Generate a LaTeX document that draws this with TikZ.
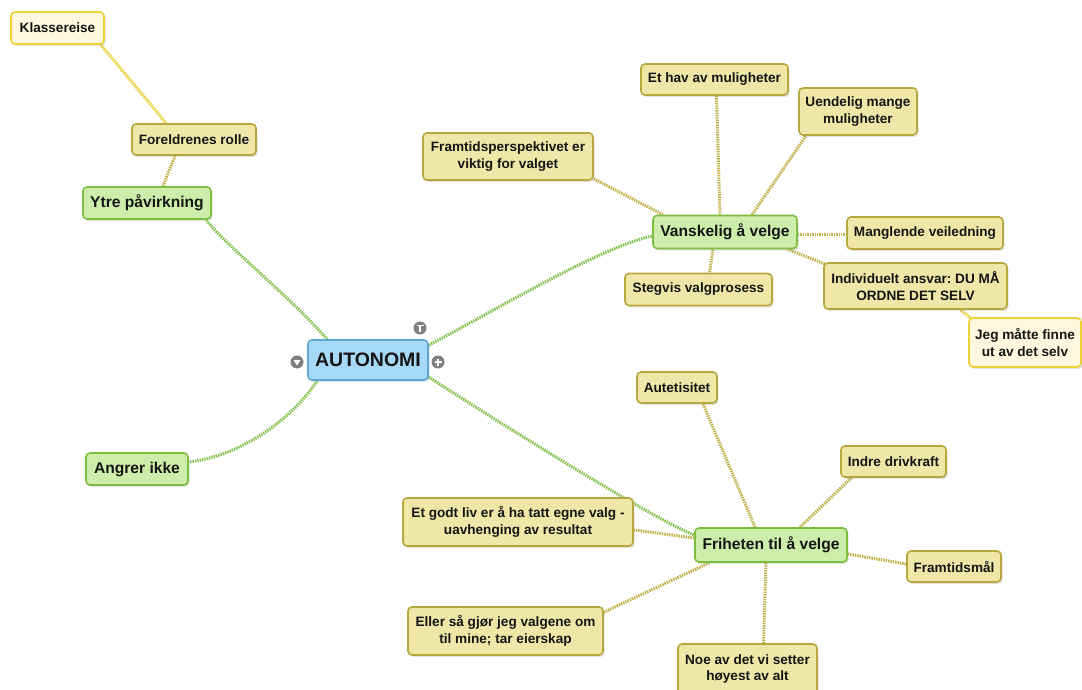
\documentclass[tikz,border=0pt]{standalone}
\usepackage{fontspec}
\setmainfont{Liberation Sans}
\usetikzlibrary{shadows}
\pgfdeclarelayer{background}
\pgfsetlayers{background,main}
\frenchspacing
\definecolor{txt}{HTML}{151515}
\definecolor{tanfill}{HTML}{EEE7A8}
\definecolor{tanline}{HTML}{B7A83E}
\definecolor{greenfill}{HTML}{CCEEAA}
\definecolor{greenline}{HTML}{7CBF3E}
\definecolor{bluefill}{HTML}{A6D8F7}
\definecolor{blueline}{HTML}{5FA7D2}
\definecolor{yelfill}{HTML}{FFF8DE}
\definecolor{yelline}{HTML}{EDD236}
\definecolor{gconncol}{HTML}{80C04A}
\definecolor{tconncol}{HTML}{BFAF45}
\definecolor{yconncol}{HTML}{E6CC30}
\definecolor{icongrey}{HTML}{7F7F7F}
\tikzset{
  box/.style={rounded corners=4pt, line width=1.6pt, inner sep=0pt, align=center,
    font=\frenchspacing\bfseries\fontsize{13.6}{16.8}\selectfont, text=txt,
    drop shadow={opacity=0.22, shadow xshift=1.5pt, shadow yshift=-2pt}},
  sz/.style 2 args={minimum width=#1pt, minimum height=#2pt},
  tanbox/.style={box, fill=tanfill, draw=tanline},
  yelbox/.style={box, fill=yelfill, draw=yelline},
  greenbox/.style={box, fill=greenfill, draw=greenline, font=\bfseries\fontsize{15.6}{17}\selectfont},
  rootbox/.style={box, fill=bluefill, draw=blueline, font=\bfseries\fontsize{19.5}{21}\selectfont},
  conn/.style={line width=3pt, dash pattern=on 1.4pt off 1pt},
  gconn/.style={conn, draw=gconncol},
  tconn/.style={conn, draw=tconncol},
  yconn/.style={conn, draw=yconncol},
  icon/.style={circle, fill=icongrey, minimum size=13pt, inner sep=0pt},
  glyph/.style={white, line width=1.6pt},
}
\begin{document}
\begin{tikzpicture}[x=1pt,y=-1pt]
\useasboundingbox (0,0) rectangle (1082,690);
% root
\node[rootbox, sz={120}{40}] (auto) at (368,360) {AUTONOMI};
% green
\node[greenbox, sz={128}{32}] (ytre) at (147,203) {Ytre påvirkning};
\node[greenbox, sz={102}{32}] (angrer) at (137,469) {Angrer ikke};
\node[greenbox, sz={144}{33}] (vansk) at (725,232) {Vanskelig å velge};
\node[greenbox, sz={152}{34}] (frihet) at (771,545) {Friheten til å velge};
% tan
\node[tanbox, sz={124}{31}] (foreldre) at (194,139.5) {Foreldrenes rolle};
\node[tanbox, sz={147}{31}] (hav) at (714.5,79.5) {Et hav av muligheter};
\node[tanbox, sz={118}{47}] (uendelig) at (858,111.5) {Uendelig mange\\muligheter};
\node[tanbox, sz={170}{47}] (framtid) at (508,156.5) {Framtidsperspektivet er\\viktig for valget};
\node[tanbox, sz={156}{32}] (mangl) at (925,233) {Manglende veiledning};
\node[tanbox, sz={183}{46}] (indiv) at (915.5,286) {Individuelt ansvar: DU MÅ\\ORDNE DET SELV};
\node[tanbox, sz={147}{32}] (stegvis) at (698.5,289.5) {Stegvis valgprosess};
\node[tanbox, sz={80}{31}] (autet) at (677,387.5) {Autetisitet};
\node[tanbox, sz={105}{31}] (indre) at (893.5,461.5) {Indre drivkraft};
\node[tanbox, sz={94}{31}] (maal) at (954,566.5) {Framtidsmål};
\node[tanbox, sz={230}{48}] (godt) at (518,522) {Et godt liv er å ha tatt egne valg -\\uavhenging av resultat};
\node[tanbox, sz={195}{48}] (eller) at (505.5,631) {Eller så gjør jeg valgene om\\til mine; tar eierskap};
\node[tanbox, sz={139}{50}] (noe) at (747.5,669) {Noe av det vi setter\\høyest av alt};
% yellow
\node[yelbox, sz={93}{32}] (klasse) at (57.5,28) {Klassereise};
\node[yelbox, sz={112}{49}] (jeg) at (1025,342.5) {Jeg måtte finne\\ut av det selv};
% icons
\node[icon] (itop) at (420,328) {};
\node[icon] (ileft) at (297,362) {};
\node[icon] (iright) at (438,362) {};
\draw[glyph] ([xshift=-3.5pt,yshift=2.5pt]itop.center) -- ([xshift=3.5pt,yshift=2.5pt]itop.center);
\draw[glyph] ([yshift=2.5pt]itop.center) -- ([yshift=-4pt]itop.center);
\fill[white] ([xshift=-3.5pt,yshift=2pt]ileft.center) -- ([xshift=3.5pt,yshift=2pt]ileft.center) -- ([yshift=-3.5pt]ileft.center) -- cycle;
\draw[glyph] ([xshift=-3.5pt]iright.center) -- ([xshift=3.5pt]iright.center);
\draw[glyph] ([yshift=-3.5pt]iright.center) -- ([yshift=3.5pt]iright.center);
% connectors
\begin{pgfonlayer}{background}
\draw[gconn] ([xshift=20pt]auto.north west) .. controls +(-40,-45) and +(25,30) .. ([xshift=-6pt]ytre.south east);
\draw[gconn] ([xshift=10pt]auto.south west) .. controls +(-30,45) and +(45,-5) .. ([yshift=7pt]angrer.east);
\draw[gconn] ([yshift=15pt]auto.east) .. controls +(55,-28) and +(-55,12) .. ([yshift=-4pt]vansk.west);
\draw[gconn] ([yshift=-17pt]auto.east) .. controls +(55,36) and +(-40,-15) .. ([yshift=10pt]frihet.west);
% tan
\draw[tconn] ([xshift=16pt]ytre.north) -- ([xshift=-19pt]foreldre.south);
\draw[yconn] ([xshift=-28pt]foreldre.north) .. controls +(-12,-15) and +(15,18) .. ([xshift=-4pt]klasse.south east);
\draw[tconn] ([xshift=-5pt]vansk.north) -- ([xshift=2pt]hav.south);
\draw[tconn] ([xshift=27pt]vansk.north) -- ([xshift=-52pt]uendelig.south);
\draw[tconn] ([xshift=-62pt]vansk.north) -- ([yshift=2pt]framtid.south east);
\draw[tconn] ([yshift=-2pt]vansk.east) -- ([yshift=-1pt]mangl.west);
\draw[tconn] ([xshift=-12pt]vansk.south) -- ([xshift=11pt]stegvis.north);
\draw[tconn] ([xshift=-10pt]vansk.south east) -- ([xshift=2pt,yshift=-2pt]indiv.north west);
\draw[yconn] ([xshift=45pt]indiv.south) -- ([xshift=4pt,yshift=-2pt]jeg.north west);
\draw[tconn] ([xshift=-16pt]frihet.north) -- ([xshift=26pt]autet.south);
\draw[tconn] ([xshift=29pt]frihet.north) -- ([xshift=-42pt]indre.south);
\draw[tconn] ([yshift=-9pt]frihet.east) -- ([yshift=2.5pt]maal.west);
\draw[tconn] ([yshift=7pt]frihet.west) -- ([yshift=-8pt]godt.east);
\draw[tconn] ([xshift=15pt]frihet.south west) -- ([yshift=-6pt]eller.north east);
\draw[tconn] ([xshift=-5pt]frihet.south) -- ([xshift=16pt]noe.north);
\end{pgfonlayer}
\end{tikzpicture}
\end{document}
